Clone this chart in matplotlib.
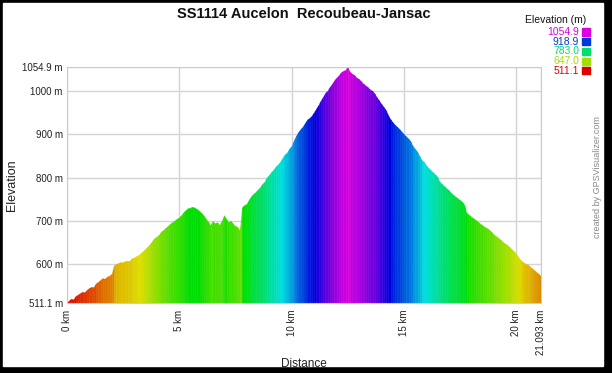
import matplotlib
matplotlib.use("Agg")
import matplotlib.pyplot as plt
import matplotlib.colors as mcolors
from matplotlib.patches import Rectangle
import numpy as np

plt.rcParams['font.family'] = ['Liberation Sans', 'DejaVu Sans']

title = "SS1114 Aucelon  Recoubeau-Jansac"

# elevation (m) every 0.1 km, last point at 21.093 km
elev_km = [
    511, 516, 521, 519, 527, 530, 533, 537, 535, 541,
    545, 548, 547, 556, 559, 564, 568, 566, 572, 574,
    578, 597, 600, 603, 605, 604, 607, 609, 608, 614,
    615, 619, 621, 626, 630, 636, 641, 646, 653, 660,
    664, 668, 675, 679, 684, 688, 693, 697, 701, 705,
    708, 713, 720, 725, 729, 731, 733, 730, 727, 723,
    718, 712, 705, 698, 690, 700, 694, 697, 690, 700,
    713, 705, 697, 700, 694, 688, 686, 678, 731, 736,
    739, 748, 756, 762, 766, 772, 777, 785, 790, 800,
    805, 812, 818, 825, 830, 836, 845, 853, 857, 866,
    872, 885, 895, 904, 911, 917, 925, 933, 937, 942,
    950, 958, 967, 977, 985, 994, 1000, 1008, 1015, 1023,
    1030, 1035, 1042, 1045, 1048, 1054.9, 1044, 1039, 1036, 1030,
    1027, 1022, 1016, 1012, 1008, 1003, 1000, 994, 985, 978,
    970, 963, 956, 945, 935, 928, 922, 917, 912, 906,
    900, 895, 890, 884, 873, 866, 860, 850, 840, 836,
    828, 822, 817, 812, 807, 802, 790, 785, 780, 775,
    771, 765, 760, 756, 752, 748, 744, 737, 718, 714,
    710, 706, 702, 698, 694, 690, 686, 683, 680, 675,
    669, 665, 661, 657, 652, 648, 645, 640, 635, 630,
    625, 617, 610, 605, 602, 600, 596, 591, 587, 582,
    578, 573,
]
total_km = 21.093
dist = [i * 0.1 for i in range(len(elev_km) - 1)] + [total_km]

y_min, y_max = 511.1, 1054.9
y_ticks = [511.1, 600, 700, 800, 900, 1000, 1054.9]
x_ticks = [0, 5, 10, 15, 20, total_km]
x_labels = ["0 km", "5 km", "10 km", "15 km", "20 km", "21.093 km"]
legend_vals = [1054.9, 918.9, 783.0, 647.0, 511.1]


def elev_color(e):
    f = (e - y_min) / (y_max - y_min)
    f = min(max(f, 0), 1)
    return mcolors.hsv_to_rgb((f * 300 / 360, 1.0, 0.87))


d = np.array(dist)
e = np.array(elev_km, dtype=float)
widths = np.diff(d)
tops = np.maximum(e[:-1], e[1:])
cols = [elev_color(v) for v in e[:-1]]

fig = plt.figure(figsize=(6.12, 3.73), dpi=100)
fig.patch.set_facecolor('black')
fig.add_artist(Rectangle((3 / 612, 7 / 373), 600 / 612, 363 / 373,
                         transform=fig.transFigure, color='white', zorder=-10))

ax = fig.add_axes([67 / 612, 70 / 373, 474 / 612, 236 / 373])
ax.set_facecolor('white')

# outline of the profile, used to clip the coloured columns
outline = ax.fill_between(d, e, y_min, facecolor='none', edgecolor='none')
clip = outline.get_paths()[0]
bars = ax.bar(d[:-1], tops - y_min, bottom=y_min, width=widths, align='edge',
              color=cols, edgecolor=cols, linewidth=0.4, zorder=2)
for b in bars:
    b.set_clip_path(clip, ax.transData)

ax.set_xlim(0, total_km)
ax.set_ylim(y_min, y_max)
ax.set_xticks(x_ticks)
ax.set_xticklabels(x_labels, rotation=90, va='top')
ax.set_yticks(y_ticks)
ax.set_yticklabels([f"{v:g} m" if v % 1 == 0 else f"{v:.1f} m" for v in y_ticks])
ax.tick_params(length=0, labelsize=7, colors='#222222')
ax.tick_params(axis='x', pad=5)
ax.tick_params(axis='y', pad=3)
ax.grid(True, color='#d4d4d4', linewidth=1)
ax.set_axisbelow(True)
for s in ax.spines.values():
    s.set_color('#cccccc')

ax.set_xlabel("Distance", fontsize=8.5, color='#222222', labelpad=2)
fig.text(12 / 612, 1 - 185 / 373, "Elevation", rotation=90, fontsize=9,
         color='#222222', ha='center', va='center')

fig.text(304 / 612, 1 - 14.5 / 373, title, fontsize=10.5, fontweight='bold',
         ha='center', va='center', color='#111111')

# legend
fig.text(586 / 612, 1 - 20 / 373, "Elevation (m)", fontsize=7.5,
         ha='right', va='center', color='#111111')
for i, v in enumerate(legend_vals):
    yy = 1 - (32 + i * 9.7) / 373
    c = elev_color(v)
    fig.text(579 / 612, yy, f"{v:.1f}", fontsize=7.5, ha='right', va='center', color=c)
    fig.add_artist(Rectangle((582 / 612, yy - 3.5 / 373), 8 / 612, 7 / 373,
                             transform=fig.transFigure, color=c))

fig.text(597 / 612, 1 - 177 / 373, "created by GPSVisualizer.com", rotation=90,
         fontsize=6.5, color='#888888', ha='center', va='center')

fig.savefig('out.png', dpi=100, facecolor=fig.get_facecolor())
